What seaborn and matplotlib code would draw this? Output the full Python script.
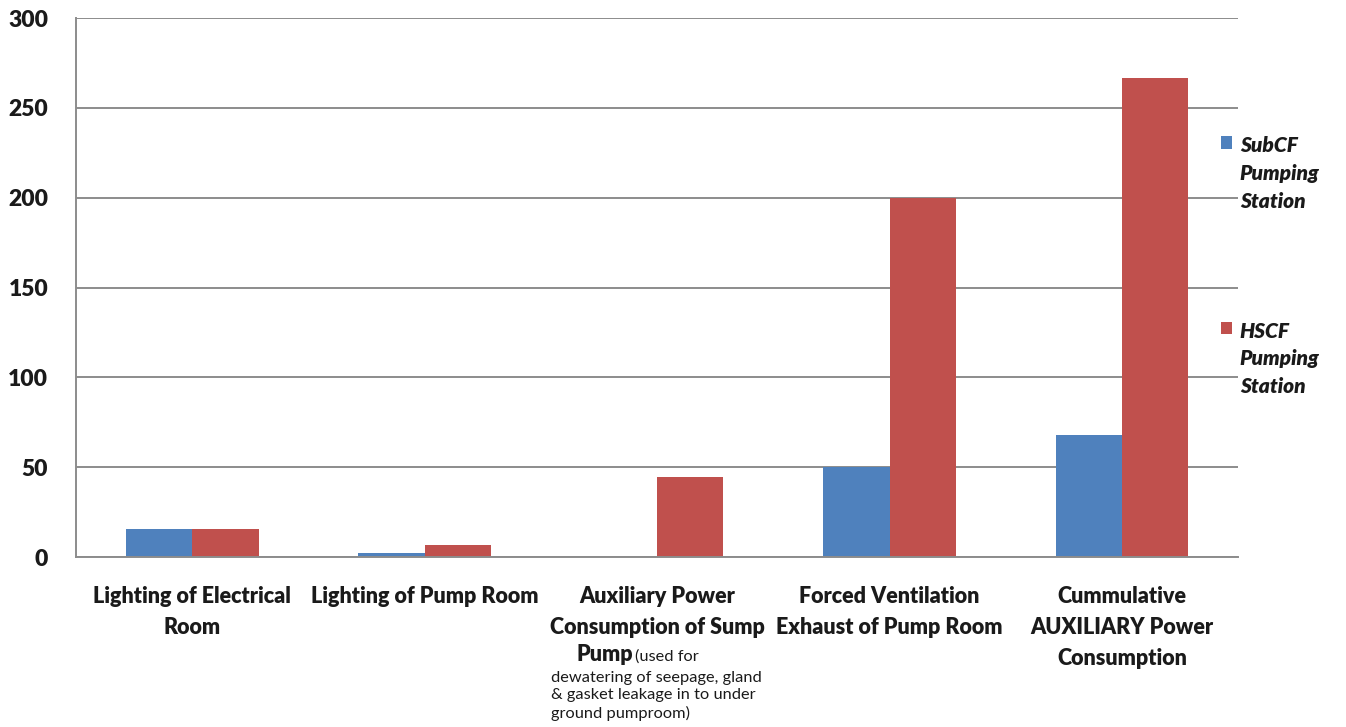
import matplotlib
matplotlib.use("Agg")
import matplotlib.pyplot as plt
from matplotlib.patches import Patch
import pandas as pd
import seaborn as sns

categories = [
    "Lighting of Electrical\nRoom",
    "Lighting of Pump Room",
    "Auxiliary Power\nConsumption of Sump",
    "Forced Ventilation\nExhaust of Pump Room",
    "Cummulative\nAUXILIARY Power\nConsumption",
]
series_names = ["SubCF\nPumping\nStation", "HSCF\nPumping\nStation"]
subcf_values = [15.6, 2.2, 0.0, 50.0, 67.8]
hscf_values = [15.6, 6.7, 44.3, 200.0, 266.6]
y_ticks = [0, 50, 100, 150, 200, 250, 300]
sump_note_bold = "Pump"
sump_note_first = "(used for"
sump_note_rest = "dewatering of seepage, gland\n& gasket leakage in to under\nground pumproom)"

colors = ["#4F81BD", "#C0504D"]
grid_color = "#8c8c8c"
text_color = "#1a1a1a"

sns.set_theme(style="white")
plt.rcParams["font.family"] = ["Lato", "DejaVu Sans"]

df = pd.DataFrame({
    "category": categories * 2,
    "series": [series_names[0]] * len(categories) + [series_names[1]] * len(categories),
    "value": subcf_values + hscf_values,
})

fig = plt.figure(figsize=(13.46, 7.27), dpi=100)
ax = fig.add_axes([0.0565, 0.2338, 0.8635, 0.7414])

sns.barplot(data=df, x="category", y="value", hue="series", order=categories,
            hue_order=series_names, palette=colors, saturation=1, width=0.57,
            legend=False, ax=ax, errorbar=None, linewidth=0, edgecolor="none")

ax.set_xlim(-0.5, len(categories) - 0.5)
ax.set_ylim(0, 300)
ax.set_yticks(y_ticks)
ax.yaxis.grid(True, color=grid_color, linewidth=1.4)
ax.set_axisbelow(True)
for side in ["top", "right"]:
    ax.spines[side].set_visible(False)
for side in ["left", "bottom"]:
    ax.spines[side].set_color(grid_color)
    ax.spines[side].set_linewidth(1.4)

ax.set_xlabel("")
ax.set_ylabel("")
ax.tick_params(axis="y", length=0, pad=20, labelsize=16.5, labelcolor=text_color)
ax.tick_params(axis="x", length=0, pad=21, labelsize=15.5, labelcolor=text_color)
for lbl in ax.get_yticklabels():
    lbl.set_fontweight("heavy")
for lbl in ax.get_xticklabels():
    lbl.set_fontweight("heavy")
    lbl.set_linespacing(1.58)
    lbl.set_va("top")

# Extra note below the sump pump category label
xt = ax.get_xaxis_transform()
ax.text(1.897, -0.193, sump_note_bold, transform=xt, ha="right", va="baseline",
        fontsize=15.5, fontweight="heavy", color=text_color)
ax.text(1.905, -0.193, sump_note_first, transform=xt, ha="left", va="baseline",
        fontsize=11.8, color=text_color)
ax.text(1.544, -0.211, sump_note_rest, transform=xt, ha="left", va="top",
        fontsize=11.8, color=text_color, linespacing=1.33)

handles = [Patch(facecolor=c, edgecolor="none") for c in colors]
leg = ax.legend(handles, series_names, loc="upper left", bbox_to_anchor=(0.969, 0.815),
                frameon=False, handlelength=0.55, handleheight=0.55, handletextpad=0.35,
                labelspacing=5.3, prop={"weight": "heavy", "style": "italic", "size": 15})
for t in leg.get_texts():
    t.set_color(text_color)
    t.set_linespacing(1.55)
for col in leg._legend_handle_box.get_children():
    for row in col.get_children():
        row.align = "top"

fig.savefig("out.png", dpi=100, facecolor="white")
